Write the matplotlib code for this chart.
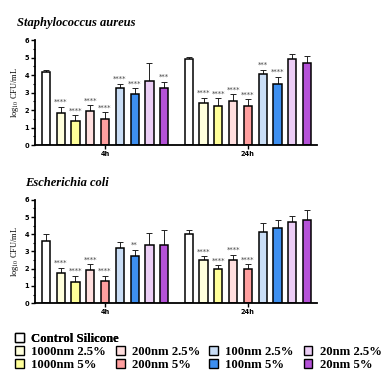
import numpy as np
import matplotlib.pyplot as plt
from matplotlib.patches import Patch

# groups / treatments
labels = ['Control Silicone', '1000nm 2.5%', '1000nm 5%', '200nm 2.5%', '200nm 5%',
          '100nm 2.5%', '100nm 5%', '20nm 2.5%', '20nm 5%']
colors = ['#ffffff', '#ffffdc', '#ffff99', '#ffdede', '#ff9f9f',
          '#c9ddf5', '#3d8ff0', '#ebcdf5', '#b552d8']
times = ['4h', '24h']

# Staphylococcus aureus
sa_4h = [4.19, 1.85, 1.39, 1.96, 1.52, 3.24, 2.95, 3.66, 3.27]
sa_4h_err = [0.13, 0.34, 0.32, 0.33, 0.35, 0.28, 0.29, 1.01, 0.35]
sa_24h = [4.90, 2.38, 2.25, 2.53, 2.25, 4.04, 3.52, 4.91, 4.72]
sa_24h_err = [0.11, 0.34, 0.42, 0.37, 0.36, 0.28, 0.38, 0.29, 0.36]
sa_4h_sig = ['', '****', '****', '****', '****', '****', '****', '', '***']
sa_24h_sig = ['', '****', '****', '****', '****', '***', '****', '', '']

# Escherichia coli
ec_4h = [3.60, 1.76, 1.24, 1.91, 1.30, 3.20, 2.76, 3.39, 3.39]
ec_4h_err = [0.42, 0.31, 0.35, 0.35, 0.29, 0.34, 0.34, 0.67, 0.86]
ec_24h = [4.02, 2.49, 1.98, 2.51, 1.98, 4.14, 4.37, 4.72, 4.82]
ec_24h_err = [0.25, 0.23, 0.23, 0.29, 0.28, 0.52, 0.43, 0.36, 0.61]
ec_4h_sig = ['', '****', '****', '****', '****', '', '**', '', '']
ec_24h_sig = ['', '****', '****', '****', '****', '', '', '', '']

plt.rcParams['font.family'] = ['Liberation Serif', 'DejaVu Serif']
plt.rcParams['mathtext.fontset'] = 'stix'

fig = plt.figure(figsize=(3.88, 3.72), dpi=100)
ax_top = fig.add_axes([0.090, 0.610, 0.726, 0.282])
ax_bot = fig.add_axes([0.090, 0.185, 0.726, 0.278])

offset = 9.65
width = 0.56


def panel(ax, v4, e4, v24, e24, s4, s24, title, tx):
    for g, (vals, errs, sig) in enumerate([(v4, e4, s4), (v24, e24, s24)]):
        x = np.arange(9) + g * offset
        ax.bar(x, vals, width=width, color=colors, edgecolor='black', linewidth=1.1, zorder=2)
        ax.errorbar(x, vals, yerr=[np.zeros(9), errs], fmt='none', ecolor='#222222',
                    elinewidth=0.7, capsize=2, capthick=0.7, zorder=1)
        for xi, v, e, s in zip(x, vals, errs, sig):
            if s:
                ax.text(xi, v + e + 0.1, s, fontsize=5, color='#444444',
                        family='DejaVu Sans', ha='center', va='bottom')
    ax.set_xlim(-0.74, 18.29)
    ax.set_ylim(0, 6)
    ax.set_yticks(range(7))
    ax.set_yticks(np.arange(0, 6.5, 0.5), minor=True)
    ax.set_xticks([4, 4 + offset])
    ax.set_xticklabels(times)
    for lab in ax.get_xticklabels() + ax.get_yticklabels():
        lab.set_fontfamily('DejaVu Sans')
        lab.set_fontweight('bold')
        lab.set_fontsize(4.8)
    ax.tick_params(axis='both', width=1.0, length=3, pad=1)
    ax.tick_params(axis='y', which='minor', width=0.8, length=1.6)
    ax.spines['top'].set_visible(False)
    ax.spines['right'].set_visible(False)
    ax.spines['left'].set_linewidth(1.3)
    ax.spines['bottom'].set_linewidth(1.3)
    ax.set_ylabel(r'log$_{10}$ CFU/mL', fontsize=6, labelpad=3)
    ax.text(tx, 1.16, title, transform=ax.transAxes, fontsize=9,
            style='italic', fontweight='bold', ha='left', va='center')


panel(ax_top, sa_4h, sa_4h_err, sa_24h, sa_24h_err, sa_4h_sig, sa_24h_sig,
      'Staphylococcus aureus', -0.065)
panel(ax_bot, ec_4h, ec_4h_err, ec_24h, ec_24h_err, ec_4h_sig, ec_24h_sig,
      'Escherichia coli', -0.035)

# legend: control on its own row, then the 8 coatings in 4 columns
leg_kw = dict(frameon=False, handlelength=0.7, handleheight=0.7,
              handletextpad=0.55, columnspacing=0.75, labelspacing=0.1,
              borderpad=0, borderaxespad=0, prop={'weight': 'bold', 'size': 9.2})
ctrl = [Patch(facecolor=colors[0], edgecolor='black', linewidth=1.0, label=labels[0])]
leg1 = fig.legend(handles=ctrl, loc='upper left', bbox_to_anchor=(0.039, 0.106), **leg_kw)
others = [Patch(facecolor=colors[i], edgecolor='black', linewidth=1.0, label=labels[i])
          for i in range(1, 9)]
fig.legend(handles=others, ncol=4, loc='upper left', bbox_to_anchor=(0.039, 0.070), **leg_kw)
fig.add_artist(leg1)

fig.savefig('out.png', dpi=100)
